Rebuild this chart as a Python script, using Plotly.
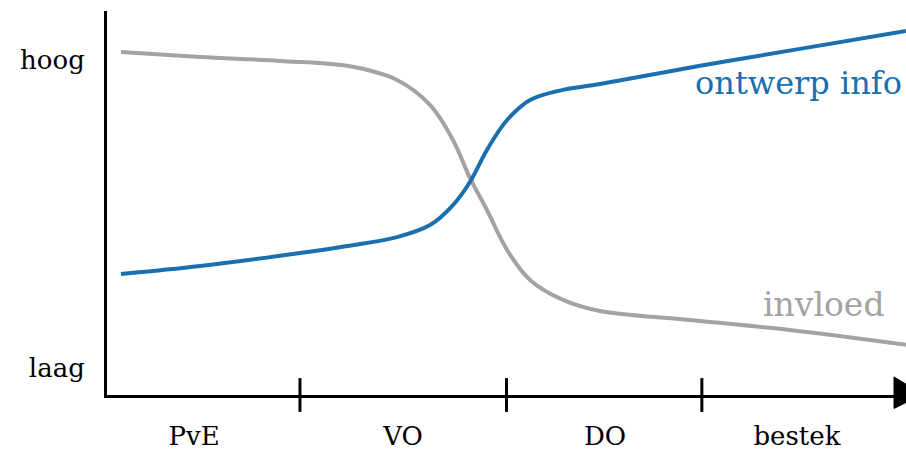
import plotly.graph_objects as go

# Phase labels and boundaries (x in phase units, 0..4)
phases = ["PvE", "VO", "DO", "bestek"]
phase_label_pos = [0.436, 1.482, 2.493, 3.454]
phase_boundaries = [0.966, 2.0, 2.978]

# Level labels (y: 0 = laag, 1 = hoog)
level_labels = ["laag", "hoog"]
level_vals = [0, 1]

# invloed (influence) curve, grey
invloed_x = [0.070, 0.466, 0.866, 1.202, 1.452, 1.617, 1.732, 1.817, 1.902, 2.003,
             2.118, 2.283, 2.468, 2.919, 3.419, 4.0]
invloed_y = [1.026, 1.010, 0.997, 0.981, 0.935, 0.854, 0.740, 0.617, 0.513, 0.383,
             0.286, 0.221, 0.185, 0.156, 0.123, 0.075]

# ontwerp info (design information) curve, blue
info_x = [0.070, 0.466, 0.966, 1.202, 1.452, 1.617, 1.732, 1.817, 1.902, 2.003,
          2.118, 2.283, 2.468, 2.969, 3.469, 4.0]
info_y = [0.305, 0.331, 0.373, 0.396, 0.425, 0.464, 0.529, 0.604, 0.708, 0.805,
          0.870, 0.903, 0.922, 0.981, 1.036, 1.094]

BLUE = "#1a6fb0"
GREY = "#a3a3a3"
FONT = "DejaVu Serif"

fig = go.Figure()
fig.add_trace(go.Scatter(x=invloed_x, y=invloed_y, mode="lines",
                         line=dict(color=GREY, width=4, shape="spline", smoothing=1.0),
                         hoverinfo="skip", showlegend=False, cliponaxis=False))
fig.add_trace(go.Scatter(x=info_x, y=info_y, mode="lines",
                         line=dict(color=BLUE, width=4, shape="spline", smoothing=1.0),
                         hoverinfo="skip", showlegend=False, cliponaxis=False))

shapes = []
for b in phase_boundaries:
    shapes.append(dict(type="line", xref="x", yref="paper", x0=b, x1=b, y0=0.044, y1=-0.044,
                       line=dict(color="black", width=3), layer="above"))
shapes.append(dict(type="path", xref="paper", yref="paper",
                   path="M0.985,0.047L1.021,0.002L0.985,-0.035Z",
                   fillcolor="black", line=dict(color="black", width=1), layer="above"))

annotations = [
    dict(x=3.99, y=0.925, xref="x", yref="y", text="ontwerp info", showarrow=False,
         xanchor="right", yanchor="middle", font=dict(family=FONT, size=32, color=BLUE)),
    dict(x=3.905, y=0.205, xref="x", yref="y", text="invloed", showarrow=False,
         xanchor="right", yanchor="middle", font=dict(family=FONT, size=33, color=GREY)),
]

fig.update_layout(
    width=906, height=452,
    margin=dict(l=107, r=0, t=11, b=57, autoexpand=False),
    paper_bgcolor="white", plot_bgcolor="white",
    shapes=shapes, annotations=annotations,
    xaxis=dict(range=[0, 4], showgrid=False, zeroline=False, showline=True,
               linecolor="black", linewidth=3, tickvals=phase_label_pos, ticktext=phases,
               ticks="", ticklabelstandoff=16, automargin=False,
               tickfont=dict(family=FONT, size=26, color="#000000")),
    yaxis=dict(range=[-0.0877, 1.159], showgrid=False, zeroline=False, showline=True,
               linecolor="black", linewidth=3, tickvals=level_vals, ticktext=level_labels,
               ticks="", ticklabelstandoff=14, automargin=False,
               tickfont=dict(family=FONT, size=26, color="#000000")),
)

fig.write_html(
    "out.html",
    config={"displayModeBar": False},
    post_script="document.body.style.margin='0';document.body.style.overflow='hidden';",
)
